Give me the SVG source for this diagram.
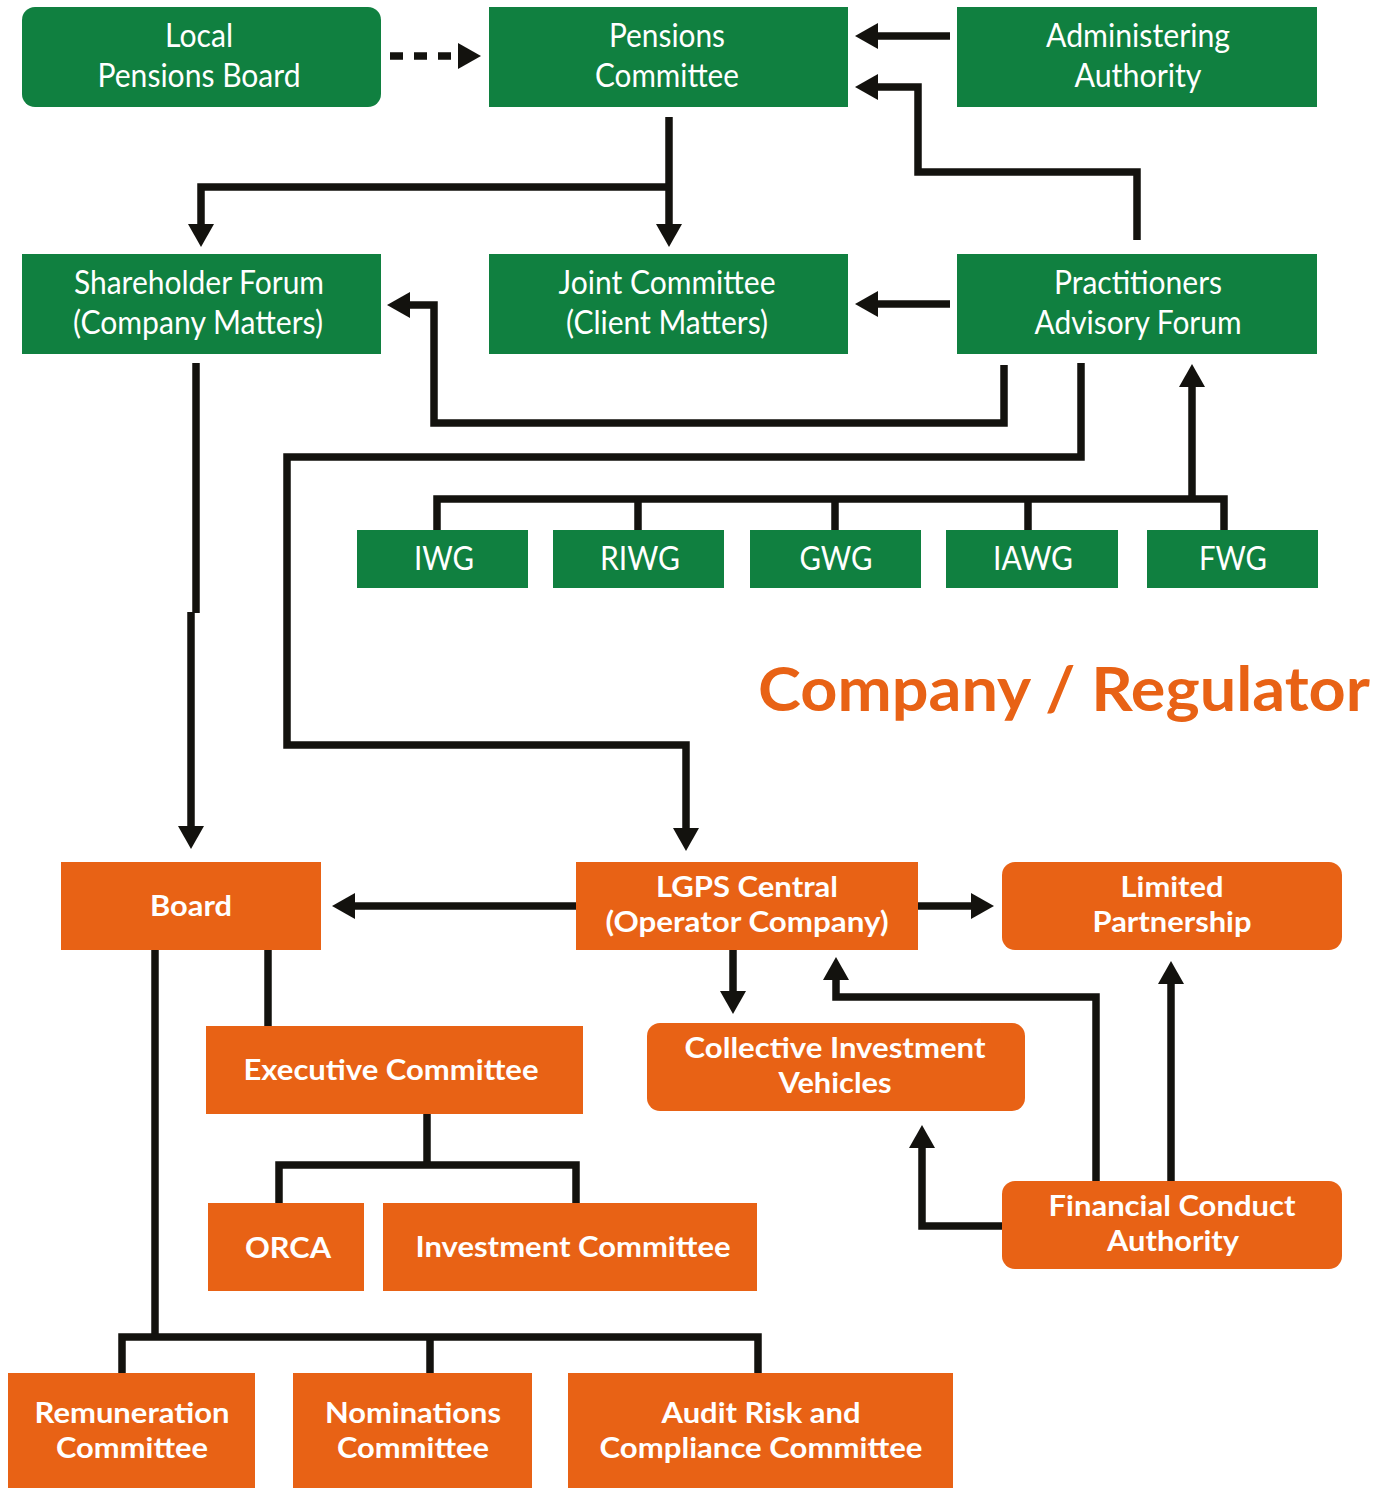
<svg xmlns="http://www.w3.org/2000/svg" width="1388" height="1488" viewBox="0 0 1388 1488">
<style>
.g{fill:#108040}
.o{fill:#E86215}
.tg{font-family:Lato,"Noto Sans",sans-serif;font-size:33px;fill:#fff;text-anchor:middle}
.to{font-family:Lato,"Noto Sans",sans-serif;font-size:29px;font-weight:bold;fill:#fff;text-anchor:middle}
.c{fill:none;stroke:#13120e;stroke-width:7.5}
.a{marker-end:url(#ah)}
.title{font-family:Lato,"Noto Sans",sans-serif;font-size:62px;font-weight:bold;fill:#E86215}
</style>
<defs>
<marker id="ah" markerUnits="userSpaceOnUse" markerWidth="24" markerHeight="28" refX="0" refY="13" orient="auto" viewBox="0 0 24 26">
<path d="M0,0 L23,13 L0,26 z" fill="#13120e"/>
</marker>
</defs>
<rect width="1388" height="1488" fill="#fff"/>

<g id="connectors">
<path class="c" d="M390,56 H458" stroke-dasharray="13,11" marker-end="url(#ah)"/>
<path class="c a" d="M950,36 H878"/>
<path class="c a" d="M1137,240 V172 H918 V87 H878"/>
<path class="c a" d="M669,117 V224"/>
<path class="c a" d="M669,187 H201 V224"/>
<path class="c a" d="M950,304 H878"/>
<path class="c a" d="M1004,365 V423 H434 V305 H410"/>
<path class="c a" d="M1081,363 V457 H287 V745 H686 V828"/>
<path class="c" d="M437,531 V499 H1224 V531"/>
<path class="c" d="M638,499 V531 M835,499 V531 M1028,499 V531"/>
<path class="c a" d="M1192,499 V387"/>
<path class="c" d="M196,363 V613"/>
<path class="c a" d="M191,612 V826"/>
<path class="c a" d="M576,906 H355"/>
<path class="c a" d="M918,906 H971"/>
<path class="c a" d="M733,950 V991"/>
<path class="c a" d="M1096,1181 V997 H836 V980"/>
<path class="c a" d="M1171,1181 V984"/>
<path class="c a" d="M1002,1226 H922 V1148"/>
<path class="c" d="M268,950 V1026"/>
<path class="c" d="M155,950 V1337"/>
<path class="c" d="M122,1373 V1337 H758 V1373 M430,1337 V1373"/>
<path class="c" d="M427,1114 V1165"/>
<path class="c" d="M279,1203 V1165 H576 V1203"/>
</g>

<g id="local-pensions-board"><rect class="g" x="22" y="7" width="359" height="100" rx="13"/><text class="tg" x="199" y="47" textLength="68" lengthAdjust="spacingAndGlyphs">Local</text><text class="tg" x="199" y="87" textLength="203" lengthAdjust="spacingAndGlyphs">Pensions Board</text></g>
<g id="pensions-committee"><rect class="g" x="489" y="7" width="359" height="100"/><text class="tg" x="667" y="47" textLength="116" lengthAdjust="spacingAndGlyphs">Pensions</text><text class="tg" x="667" y="87" textLength="144" lengthAdjust="spacingAndGlyphs">Committee</text></g>
<g id="administering-authority"><rect class="g" x="957" y="7" width="360" height="100"/><text class="tg" x="1138" y="47" textLength="184" lengthAdjust="spacingAndGlyphs">Administering</text><text class="tg" x="1138" y="87" textLength="127" lengthAdjust="spacingAndGlyphs">Authority</text></g>
<g id="shareholder-forum"><rect class="g" x="22" y="254" width="359" height="100"/><text class="tg" x="199" y="294" textLength="250" lengthAdjust="spacingAndGlyphs">Shareholder Forum</text><text class="tg" x="198" y="334" textLength="250" lengthAdjust="spacingAndGlyphs">(Company Matters)</text></g>
<g id="joint-committee"><rect class="g" x="489" y="254" width="359" height="100"/><text class="tg" x="667" y="294" textLength="217" lengthAdjust="spacingAndGlyphs">Joint Committee</text><text class="tg" x="667" y="334" textLength="202" lengthAdjust="spacingAndGlyphs">(Client Matters)</text></g>
<g id="practitioners-advisory-forum"><rect class="g" x="957" y="254" width="360" height="100"/><text class="tg" x="1138" y="294" textLength="168" lengthAdjust="spacingAndGlyphs">Practitioners</text><text class="tg" x="1138" y="334" textLength="207" lengthAdjust="spacingAndGlyphs">Advisory Forum</text></g>

<g id="iwg"><rect class="g" x="357" y="530" width="171" height="58"/><text class="tg" x="444" y="570" textLength="60" lengthAdjust="spacingAndGlyphs">IWG</text></g>
<g id="riwg"><rect class="g" x="553" y="530" width="171" height="58"/><text class="tg" x="640" y="570" textLength="80" lengthAdjust="spacingAndGlyphs">RIWG</text></g>
<g id="gwg"><rect class="g" x="750" y="530" width="171" height="58"/><text class="tg" x="836" y="570" textLength="73" lengthAdjust="spacingAndGlyphs">GWG</text></g>
<g id="iawg"><rect class="g" x="946" y="530" width="172" height="58"/><text class="tg" x="1033" y="570" textLength="80" lengthAdjust="spacingAndGlyphs">IAWG</text></g>
<g id="fwg"><rect class="g" x="1147" y="530" width="171" height="58"/><text class="tg" x="1233" y="570" textLength="68" lengthAdjust="spacingAndGlyphs">FWG</text></g>

<text class="title" x="758" y="711" textLength="612" lengthAdjust="spacingAndGlyphs">Company / Regulator</text>

<g id="board"><rect class="o" x="61" y="862" width="260" height="88"/><text class="to" x="191" y="916" textLength="82" lengthAdjust="spacingAndGlyphs">Board</text></g>
<g id="lgps-central"><rect class="o" x="576" y="862" width="342" height="88"/><text class="to" x="747" y="897" textLength="182" lengthAdjust="spacingAndGlyphs">LGPS Central</text><text class="to" x="747" y="932" textLength="283" lengthAdjust="spacingAndGlyphs">(Operator Company)</text></g>
<g id="limited-partnership"><rect class="o" x="1002" y="862" width="340" height="88" rx="13"/><text class="to" x="1172" y="897" textLength="103" lengthAdjust="spacingAndGlyphs">Limited</text><text class="to" x="1172" y="932" textLength="159" lengthAdjust="spacingAndGlyphs">Partnership</text></g>
<g id="executive-committee"><rect class="o" x="206" y="1026" width="377" height="88"/><text class="to" x="391" y="1080" textLength="295" lengthAdjust="spacingAndGlyphs">Executive Committee</text></g>
<g id="collective-investment-vehicles"><rect class="o" x="647" y="1023" width="378" height="88" rx="13"/><text class="to" x="835" y="1058" textLength="301" lengthAdjust="spacingAndGlyphs">Collective Investment</text><text class="to" x="835" y="1093" textLength="113" lengthAdjust="spacingAndGlyphs">Vehicles</text></g>
<g id="orca"><rect class="o" x="208" y="1203" width="156" height="88"/><text class="to" x="288" y="1258" textLength="86" lengthAdjust="spacingAndGlyphs">ORCA</text></g>
<g id="investment-committee"><rect class="o" x="383" y="1203" width="374" height="88"/><text class="to" x="573" y="1257" textLength="315" lengthAdjust="spacingAndGlyphs">Investment Committee</text></g>
<g id="financial-conduct-authority"><rect class="o" x="1002" y="1181" width="340" height="88" rx="13"/><text class="to" x="1172" y="1216" textLength="247" lengthAdjust="spacingAndGlyphs">Financial Conduct</text><text class="to" x="1173" y="1251" textLength="132" lengthAdjust="spacingAndGlyphs">Authority</text></g>
<g id="remuneration-committee"><rect class="o" x="8" y="1373" width="247" height="115"/><text class="to" x="132" y="1423" textLength="195" lengthAdjust="spacingAndGlyphs">Remuneration</text><text class="to" x="132" y="1458" textLength="152" lengthAdjust="spacingAndGlyphs">Committee</text></g>
<g id="nominations-committee"><rect class="o" x="293" y="1373" width="239" height="115"/><text class="to" x="413" y="1423" textLength="176" lengthAdjust="spacingAndGlyphs">Nominations</text><text class="to" x="413" y="1458" textLength="152" lengthAdjust="spacingAndGlyphs">Committee</text></g>
<g id="audit-risk-compliance-committee"><rect class="o" x="568" y="1373" width="385" height="115"/><text class="to" x="761" y="1423" textLength="199" lengthAdjust="spacingAndGlyphs">Audit Risk and</text><text class="to" x="761" y="1458" textLength="323" lengthAdjust="spacingAndGlyphs">Compliance Committee</text></g>
</svg>
